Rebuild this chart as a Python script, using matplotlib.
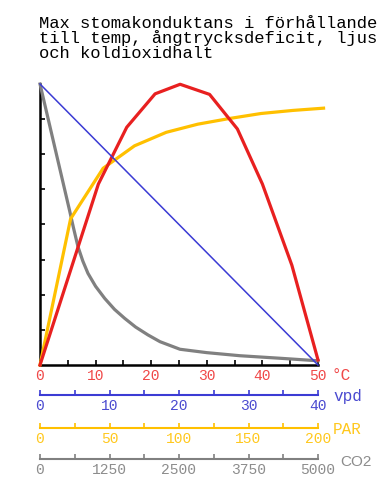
import matplotlib.pyplot as plt
from matplotlib.ticker import MultipleLocator

# data (y = relative max stomatal conductance)
temp_x = [0, 10.5, 15.6, 20.7, 25.2, 30.5, 35.5, 40.0, 45.3, 50]
temp_y = [0, 0.644, 0.846, 0.965, 0.999, 0.963, 0.84, 0.644, 0.355, 0.018]

vpd_x = [0, 40]
vpd_y = [1.0, 0.0]

par_x = [0, 22.0, 45.4, 68, 90.8, 113.5, 136, 159, 182, 204]
par_y = [0, 0.52, 0.70, 0.78, 0.828, 0.857, 0.877, 0.895, 0.906, 0.914]

co2_x = [0, 534, 600, 683, 770, 863, 1000, 1164, 1340, 1523,
         1720, 1942, 2158, 2518, 2998, 3597, 4317, 5000]
co2_y = [1.0, 0.548, 0.49, 0.421, 0.37, 0.326, 0.28, 0.237,
         0.198, 0.166, 0.135, 0.107, 0.083, 0.056, 0.044, 0.033, 0.024, 0.015]

title_lines = ['Max stomakonduktans i förhållande',
               'till temp, ångtrycksdeficit, ljus',
               'och koldioxidhalt']

# colours
red = '#e82020'
red_txt = '#f04848'
blue = '#3b3bd4'
blue_txt = '#4a4ad0'
yellow = '#ffc000'
yellow_txt = '#ffc81e'
gray = '#808080'
gray_txt = '#8c8c8c'

mono = 'Liberation Mono'
W, H = 382, 500

fig = plt.figure(figsize=(W / 100, H / 100), dpi=100)


def fx(px):
    return px / W


def fy(py):
    return 1 - py / H


# title
for i, line in enumerate(title_lines):
    fig.text(fx(39), fy(28 + 15 * i), line, family=mono, fontsize=12.3,
             va='baseline', ha='left', color='black')

# main axes (temperature scale)
left, right, top, bottom = 40, 318, 84, 365
pos = [fx(left), fy(bottom), fx(right) - fx(left), (bottom - top) / H]
ax = fig.add_axes(pos)
ax.set_xlim(0, 50)
ax.set_ylim(0, 1)
for s in ['top', 'right']:
    ax.spines[s].set_visible(False)
for s in ['left', 'bottom']:
    ax.spines[s].set_linewidth(1.8)
    ax.spines[s].set_color('black')
ax.set_yticks([0.125 * k for k in range(1, 8)])
ax.set_yticklabels([])
ax.tick_params(axis='y', direction='in', length=3.5, width=1.2)
ax.xaxis.set_major_locator(MultipleLocator(10))
ax.xaxis.set_minor_locator(MultipleLocator(5))
ax.tick_params(axis='x', which='both', direction='in', length=3.8, width=1.2,
               labelcolor=red_txt, labelsize=10.5, pad=3)
for lab in ax.get_xticklabels():
    lab.set_family(mono)
ax.patch.set_visible(False)


def overlay(xmax):
    a = fig.add_axes(pos)
    a.set_xlim(0, xmax)
    a.set_ylim(0, 1)
    a.axis('off')
    return a


# curves, each on its own x-scale
ax_co2 = overlay(5000)
ax_co2.plot(co2_x, co2_y, color=gray, lw=2.3, clip_on=False, solid_joinstyle='round')
ax_par = overlay(200)
ax_par.plot(par_x, par_y, color=yellow, lw=2.3, clip_on=False)
ax_t = overlay(50)
ax_t.plot(temp_x, temp_y, color=red, lw=2.3, clip_on=False)
ax_vpd = overlay(40)
ax_vpd.plot(vpd_x, vpd_y, color=blue, lw=1.1, clip_on=False)


# extra scale bars below the plot
def scale_bar(ypx, xmax, major, minor, col, txtcol):
    a = fig.add_axes([fx(left), fy(ypx), fx(318) - fx(left), 0.0001])
    a.set_xlim(0, xmax)
    a.set_yticks([])
    for s in ['top', 'right', 'left']:
        a.spines[s].set_visible(False)
    a.spines['bottom'].set_color(col)
    a.spines['bottom'].set_linewidth(1.5)
    a.xaxis.set_major_locator(MultipleLocator(major))
    a.xaxis.set_minor_locator(MultipleLocator(minor))
    a.tick_params(axis='x', which='both', direction='in', length=3.8, width=1.2,
                  color=col, labelcolor=txtcol, labelsize=10.5, pad=3)
    for lab in a.get_xticklabels():
        lab.set_family(mono)
    a.patch.set_visible(False)
    return a


scale_bar(395, 40, 10, 5, blue, blue_txt)
scale_bar(428, 200, 50, 25, yellow, yellow_txt)
scale_bar(459, 5000, 1250, 625, gray, gray_txt)

# scale names
fig.text(fx(331), fy(376), '°C', family=mono, fontsize=11.5, color=red_txt, va='center')
fig.text(fx(333), fy(396), 'vpd', family=mono, fontsize=11.5, color=blue_txt, va='center')
fig.text(fx(333), fy(429), 'PAR', family=mono, fontsize=11.5, color=yellow_txt, va='center')
fig.text(fx(340), fy(462), 'CO2', family='Liberation Sans', fontsize=11, color=gray_txt, va='center')

fig.savefig('out.png', dpi=100)
